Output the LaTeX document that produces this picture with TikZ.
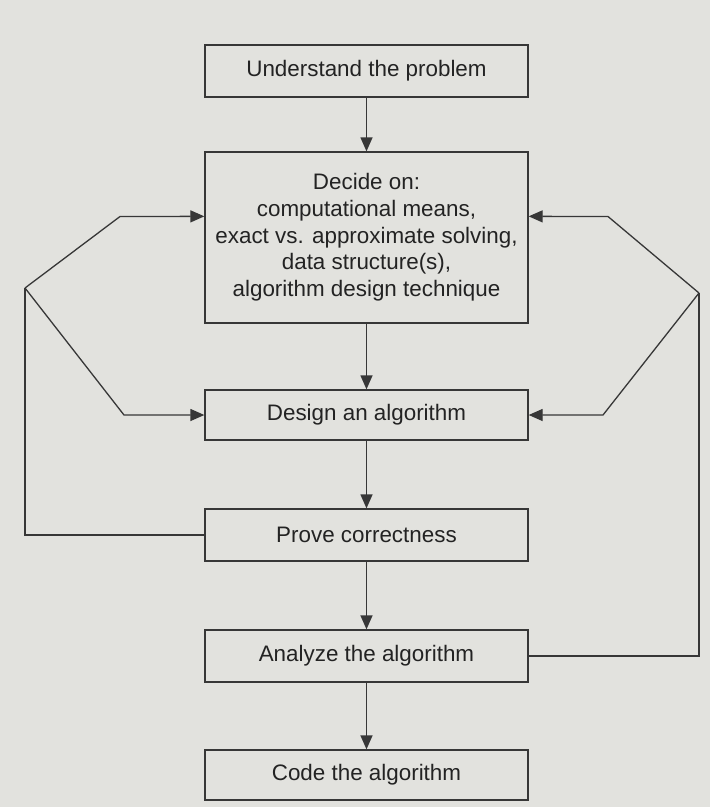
\documentclass[tikz,border=0pt]{standalone}
\usepackage{fontspec}
\setmainfont{Liberation Sans}
\usetikzlibrary{arrows.meta,calc}
\definecolor{paper}{RGB}{226,226,222}
\definecolor{ink}{RGB}{55,55,55}
\definecolor{txt}{RGB}{35,35,35}
\begin{document}
\begin{tikzpicture}[x=1pt,y=-1pt,
  box/.style={draw=ink,line width=1.3pt,minimum width=323pt,inner sep=0pt,
    text=txt,font=\fontsize{22.4}{26.7}\selectfont,align=center},
  link/.style={draw=ink,line width=1.3pt},
  arr/.style={link,-{Triangle[length=14pt,width=12pt]}}]
\fill[paper] (0,0) rectangle (710,807);
\useasboundingbox (0,0) rectangle (710,807);
\node[box,minimum height=52pt] (u) at (366.5,71) {Understand the problem};
\node[box,minimum height=171pt] (d) at (366.5,237.5) {Decide on:\\computational means,\\exact vs. approximate solving,\\data structure(s),\\algorithm design technique};
\node[box,minimum height=50pt] (g) at (366.5,415) {Design an algorithm};
\node[box,minimum height=52pt] (p) at (366.5,535) {Prove correctness};
\node[box,minimum height=52pt] (a) at (366.5,656) {Analyze the algorithm};
\node[box,minimum height=50pt] (c) at (366.5,775) {Code the algorithm};
\draw[arr] (u) -- (d);
\draw[arr] (d) -- (g);
\draw[arr] (g) -- (p);
\draw[arr] (p) -- (a);
\draw[arr] (a) -- (c);
% left loop
\coordinate (dl) at ($(d.north west)+(0,65)$);
\coordinate (dr) at ($(d.north east)+(0,65)$);
\coordinate (L) at (25,288);
\coordinate (Lb) at (25,535);
\coordinate (Lu) at (120,216.5);
\coordinate (Ld) at (124,415);
\draw[link] (p.west) -- (Lb) -- (L);
\draw[arr] (L) -- (Lu) -- (dl);
\draw[arr] (L) -- (Ld) -- (g.west);
% right loop
\coordinate (R) at (699,293);
\coordinate (Rb) at (699,656);
\coordinate (Ru) at (608,216.5);
\coordinate (Rd) at (603,415);
\draw[link] (a.east) -- (Rb) -- (R);
\draw[arr] (R) -- (Ru) -- (dr);
\draw[arr] (R) -- (Rd) -- (g.east);
\end{tikzpicture}
\end{document}
